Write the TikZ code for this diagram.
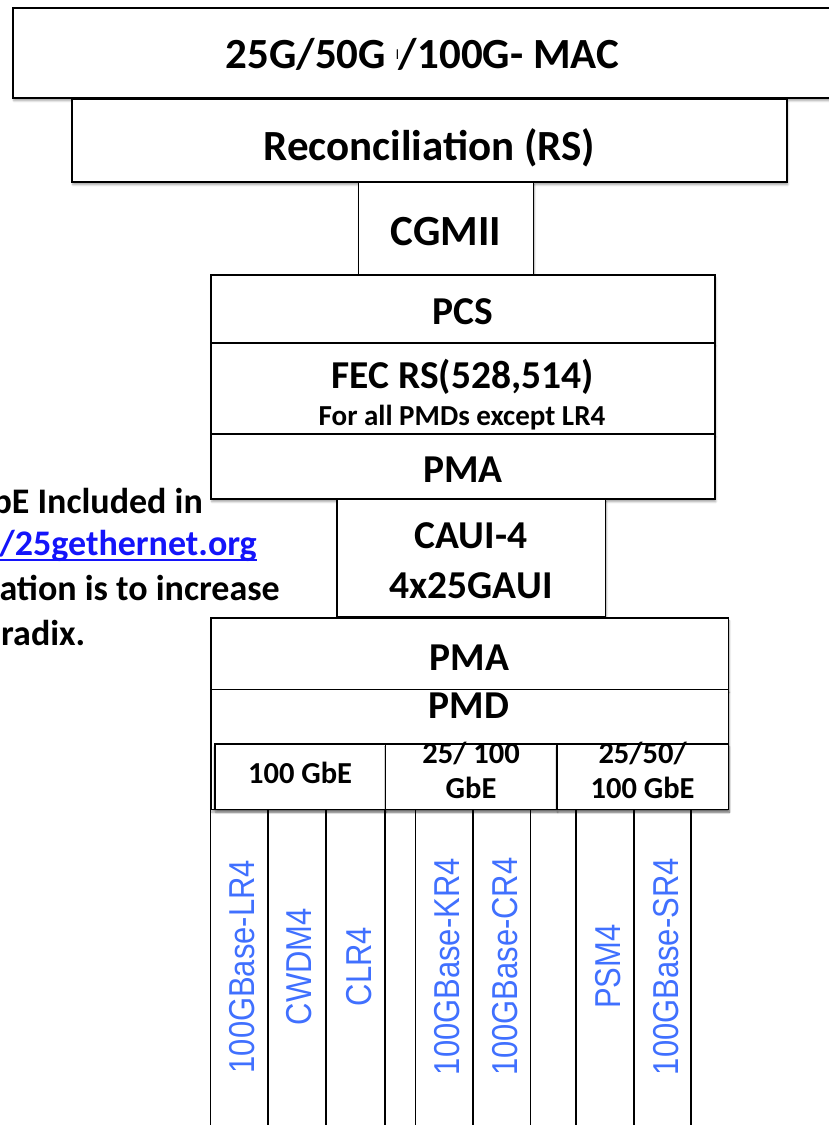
\documentclass[tikz,border=0pt]{standalone}
\usepackage{graphicx,xcolor}
\usepackage{fontspec}
\setmainfont{Carlito}
\newfontfamily\lanefont{Liberation Sans}
\usepackage{tikz}
\usetikzlibrary{positioning,shadows.blur}
\definecolor{linkblue}{RGB}{20,20,250}
\definecolor{pmdblue}{RGB}{64,112,255}
\tikzset{
  layer/.style={draw, line width=1.6pt, fill=white, inner sep=0pt, anchor=north west,
    blur shadow={shadow xshift=1pt, shadow yshift=-3pt, shadow blur steps=6, shadow opacity=35},
    text depth=0pt, font=\bfseries\fontsize{39.5}{47}\selectfont},
  toplayer/.style={layer, font=\bfseries\fontsize{43}{50}\selectfont},
  ratebox/.style={layer, align=center, font=\bfseries\fontsize{30.5}{35}\selectfont},
  note/.style={inner sep=0pt, font=\bfseries\fontsize{36}{44}\selectfont},
  pmdname/.style={inner sep=0pt, rotate=90, text=pmdblue, font=\lanefont\fontsize{36}{36}\selectfont},
  lane/.style={line width=1.6pt}
}

\begin{document}
\begin{tikzpicture}[x=1pt, y=-1pt]
  \useasboundingbox (0,0) rectangle (829,1125);
  \clip (0,0) rectangle (829,1125);
  % PMD lanes
  \foreach \x in {210.3,267.8,325.9,385.2,415.3,473.1,530.6,576.2,633.8,691.2}
    \draw[lane] (\x,808) -- (\x,1130);
  % protocol stack
  \node[toplayer, minimum width=819pt, minimum height=90pt, text height=32pt] (mac) at (12,7)
    {25G/50G {\raisebox{9pt}{\mdseries\fontsize{14}{14}\selectfont l}}/100G- MAC};
  \node[toplayer, minimum width=715pt, minimum height=83pt, text height=41pt] (rs) at (71,98) {Reconciliation (RS)};
  \node[toplayer, minimum width=175pt, minimum height=93pt, text height=35pt] (cgmii) at (357.5,181) {CGMII};
  \node[layer, minimum width=504pt, minimum height=68pt, text height=31pt] (pcs) at (210,274) {PCS};
  \node[layer, minimum width=504pt, minimum height=91pt, text height=26pt, text depth=25pt] (fec) at (210,342) {FEC RS(528,514)};
  \node[anchor=base, inner sep=0pt, font=\bfseries\fontsize{29}{34}\selectfont] (fecnote) at (462,425) {For all PMDs except LR4};
  \node[layer, minimum width=504pt, minimum height=65pt, text height=32pt] (pmaup) at (210,433) {PMA};
  \node[layer, minimum width=268.5pt, minimum height=118pt, text height=82pt, align=center,
    font=\bfseries\fontsize{39.5}{50}\selectfont] (caui) at (336,498) {CAUI-4\\4x25GAUI};
  \node[layer, minimum width=517.5pt, minimum height=71.5pt, text height=34.5pt] (pmalow) at (210,617) {PMA};
  \node[layer, minimum width=517.5pt, minimum height=120pt] (pmd) at (210,688.5) {};
  \node[anchor=base, inner sep=0pt, font=\bfseries\fontsize{39.5}{47}\selectfont] (pmdtext) at (468.75,718) {PMD};
  \node[ratebox, minimum width=170.5pt, minimum height=65.5pt, text height=20pt, text depth=6pt] (rateA) at (214,743) {100 GbE};
  \node[ratebox, minimum width=171.5pt, minimum height=65.5pt, text height=50pt, text depth=5.5pt] (rateB) at (384.5,743) {25/ 100\\GbE};
  \node[ratebox, minimum width=171.5pt, minimum height=65.5pt, text height=50pt, text depth=5.5pt] (rateC) at (556,743) {25/50/\\100 GbE};
  % PMD names
  \node[pmdname] (lr4)  at (242,966.7) {\scalebox{0.86}[1]{100GBase-LR4}};
  \node[pmdname] (cwdm) at (299,966.7) {\scalebox{0.86}[1]{CWDM4}};
  \node[pmdname] (clr4) at (359,966.7) {\scalebox{0.86}[1]{CLR4}};
  \node[pmdname] (kr4)  at (447,966.7) {\scalebox{0.86}[1]{100GBase-KR4}};
  \node[pmdname] (cr4)  at (505,966.7) {\scalebox{0.86}[1]{100GBase-CR4}};
  \node[pmdname] (psm4) at (608,966.7) {\scalebox{0.86}[1]{PSM4}};
  \node[pmdname] (sr4)  at (666,966.7) {\scalebox{0.86}[1]{100GBase-SR4}};
  % side note
  \node[note, anchor=base east] (notea) at (203,513) {bE Included in};
  \node[note, anchor=base east, text=linkblue] (noteb) at (257,555) {/25gethernet.org};
  \node[note, anchor=base east] (notec) at (280,600) {ation is to increase};
  \node[note, anchor=base west] (noted) at (1,645) {radix.};
  \draw[linkblue, line width=2pt] ([yshift=-5pt]noteb.base west) -- ([yshift=-5pt]noteb.base east);
\end{tikzpicture}
\end{document}
